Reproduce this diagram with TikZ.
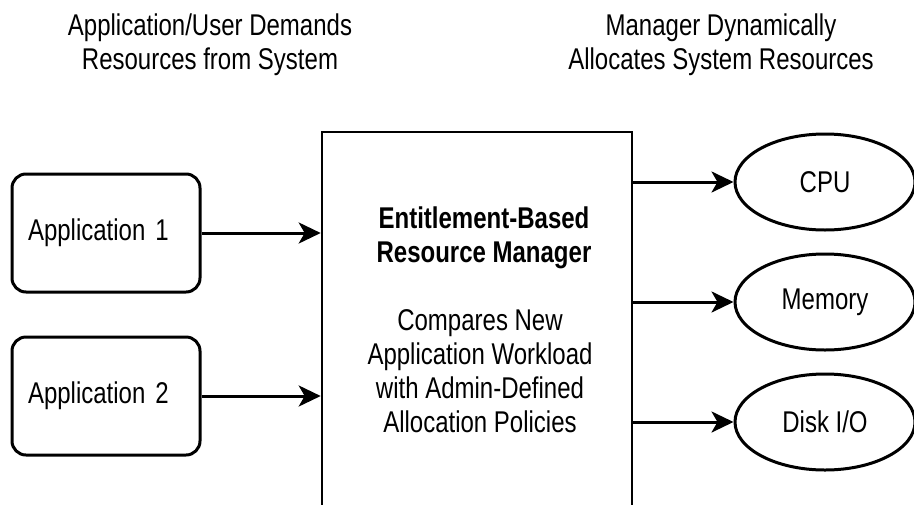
\documentclass[tikz,border=0pt]{standalone}
\usepackage{fontspec}
\setmainfont{Liberation Sans}[FakeStretch=0.8]
\usetikzlibrary{arrows.meta,shapes.geometric}
\tikzset{
	app/.style = {shape=rectangle, draw=black, rounded corners=7pt, line width=1.5pt, minimum width=94pt, minimum height=59pt, text width=78pt, inner xsep=8pt, align=left},
	res/.style = {shape=ellipse, draw=black, line width=1.5pt, minimum width=90pt, minimum height=48pt, inner sep=0pt},
	mgrbox/.style = {shape=rectangle, draw=black, line width=1.3pt, minimum width=155pt, minimum height=230pt},
	flow/.style = {line width=1.5pt, -{Stealth[length=11pt,width=10.5pt,inset=3pt]}}
}

\begin{document}
\begin{tikzpicture}[
    x=0.5pt, y=-0.5pt,
    font=\fontsize{15}{17}\selectfont,
    txt/.style={align=center, inner sep=0pt}
    ]
    \clip (0,0) rectangle (914,504);

    % headings
    \node[txt] (dem) at (210,45) {Application/User Demands\\Resources from System};
    \node[txt] (alloc) at (721,45) {Manager Dynamically\\Allocates System Resources};

    % applications
    \node[app] (app1) at (106,233) {Application 1};
    \node[app] (app2) at (106,396) {Application 2};

    % manager
    \node[mgrbox] (mgr) at (477,362) {};
    \node[txt, font=\fontsize{15}{17}\selectfont\bfseries] (title) at (484,238) {Entitlement-Based\\Resource Manager};
    \node[txt] (cmp) at (480,371) {Compares New\\Application Workload\\with Admin-Defined\\Allocation Policies};

    % resources
    \node[res] (cpu) at (825,182) {CPU};
    \node[res] (mem) at (825,302) {Memory};
    \node[res] (disk) at (825,422) {Disk I/O};

    \draw[flow] (app1.east) -- (app1.east -| mgr.west);
    \draw[flow] (app2.east) -- (app2.east -| mgr.west);
    \draw[flow] (mgr.east |- cpu.west) -- (cpu.west);
    \draw[flow] (mgr.east |- mem.west) -- (mem.west);
    \draw[flow] (mgr.east |- disk.west) -- (disk.west);
\end{tikzpicture}
\end{document}
